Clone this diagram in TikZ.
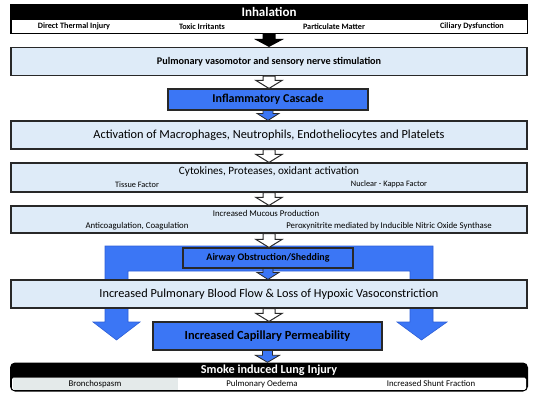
\documentclass[tikz,border=0pt]{standalone}
\usepackage{fontspec}
\setmainfont{Carlito}
\usetikzlibrary{calc}
\definecolor{lightbox}{RGB}{222,235,248}
\definecolor{bluebox}{RGB}{59,118,245}
\definecolor{blueedge}{RGB}{45,95,215}
\definecolor{edge}{RGB}{40,40,40}
\definecolor{graycell}{RGB}{228,234,234}
\newcommand{\fsz}[1]{\fontsize{#1}{#1}\selectfont}
% block arrow: #1 style, #2 from node, #3 to node, #4 shaft half width, #5 head half width, #6 head length
\newcommand{\barrow}[6]{%
  \path[#1] let \p1=(#2.south), \p2=(#3.north) in
    (\x1-#4,\y1) -- (\x1+#4,\y1) -- (\x1+#4,\y2+#6) -- (\x1+#5,\y2+#6) --
    (\x1,\y2) -- (\x1-#5,\y2+#6) -- (\x1-#4,\y2+#6) -- cycle;}
\begin{document}
\begin{tikzpicture}[x=1pt,y=-1pt,
  lbox/.style={draw=edge,line width=1.1pt,fill=lightbox,minimum width=516pt,inner sep=0pt},
  bbox/.style={draw=edge,line width=1.1pt,fill=bluebox,inner sep=0pt,text=black},
  wtip/.style={draw=edge,line width=1pt,fill=white,line join=miter},
  btip/.style={draw=edge,line width=0.8pt,fill=bluebox,line join=miter},
  ktip/.style={fill=black},
  sub/.style={font=\bfseries\fsz{8.2},inner sep=0pt},
  small/.style={font=\fsz{8.8},inner sep=0pt}
]
\useasboundingbox (0,0) rectangle (534,400);

% Inhalation
\node[fill=black,minimum width=516pt,minimum height=14pt,inner sep=0pt,text=white,font=\bfseries\fsz{13}] (inhhead) at (269,12) {Inhalation};
\node[draw=black,line width=1pt,fill=white,minimum width=516pt,minimum height=14pt,inner sep=0pt] (inhrow) at (269,26) {};
\draw[black,line width=1pt] (inhhead.north west) rectangle (inhrow.south east);
\node[sub] (dti) at (74,26.5) {Direct Thermal Injury};
\node[sub] (toxic) at (202,26.5) {Toxic Irritants};
\node[sub] (partic) at (334,26.5) {Particulate Matter};
\node[sub] (cilia) at (472,26.5) {Ciliary Dysfunction};

% Pulmonary vasomotor
\node[lbox,minimum height=28pt,font=\bfseries\fsz{10.2}] (pvs) at (269,61.5) {Pulmonary vasomotor and sensory nerve stimulation};

% Inflammatory cascade
\node[bbox,minimum width=200pt,minimum height=21pt,font=\bfseries\fsz{12}] (infl) at (268,99.5) {Inflammatory Cascade};

% Activation
\node[lbox,minimum height=28pt,font=\fsz{12.3}] (act) at (269,135) {Activation of Macrophages, Neutrophils, Endotheliocytes and Platelets};

% Cytokines
\node[lbox,minimum height=29pt] (cyt) at (269,177.5) {};
\node[font=\fsz{11.2},inner sep=0pt] (cyttxt) at (269,171.5) {Cytokines, Proteases, oxidant activation};
\node[font=\fsz{8.3},inner sep=0pt] (tissue) at (137,184.5) {Tissue Factor};
\node[font=\fsz{8.3},inner sep=0pt] (kappa) at (389,184.5) {Nuclear - Kappa Factor};

% Mucous
\node[lbox,minimum height=27pt] (muc) at (269,219.5) {};
\node[small] (muctxt) at (266,213) {Increased Mucous Production};
\node[small] (anti) at (137,226) {Anticoagulation, Coagulation};
\node[small] (perox) at (389,226) {Peroxynitrite mediated by Inducible Nitric Oxide Synthase};

% big blue U with two arrows
\path[draw=blueedge,line width=0.6pt,fill=bluebox,line join=miter]
  (105,246) -- (433,246) -- (433,322) -- (447,322) -- (421.5,340) -- (397,322) -- (410,322)
  -- (410,271) -- (128,271) -- (128,322) -- (140,322) -- (116.5,340) -- (93,322) -- (105,322) -- cycle;

% Airway obstruction
\node[bbox,minimum width=170pt,minimum height=20pt,font=\bfseries\fsz{10}] (air) at (268,258) {Airway Obstruction/Shedding};

% Pulmonary blood flow
\node[lbox,minimum height=28pt,font=\fsz{12.3}] (blood) at (269,294) {Increased Pulmonary Blood Flow \& Loss of Hypoxic Vasoconstriction};

% Capillary permeability
\node[bbox,minimum width=229pt,minimum height=28pt,font=\bfseries\fsz{12.4}] (cap) at (267.5,336) {Increased Capillary Permeability};

% Smoke induced lung injury
\node[fill=black,rounded corners=5pt,minimum width=518pt,minimum height=29pt,inner sep=0pt] (smoke) at (269,377) {};
\fill[white,rounded corners=1.5pt] (12,377.5) rectangle (526,389.8);
\fill[graycell] (12.5,377.5) rectangle (178,389.8);
\node[text=white,font=\bfseries\fsz{12.2},inner sep=0pt] (smoketitle) at (269,370) {Smoke induced Lung Injury};
\node[small] (broncho) at (95,383.7) {Bronchospasm};
\node[small] (oedema) at (262,383.7) {Pulmonary Oedema};
\node[small] (shunt) at (431,383.7) {Increased Shunt Fraction};

% connecting block arrows
\barrow{ktip}{inhrow}{pvs}{6.5pt}{15pt}{8pt}
\barrow{wtip}{pvs}{infl}{6pt}{13pt}{8pt}
\barrow{btip}{infl}{act}{5pt}{11pt}{7pt}
\barrow{wtip}{act}{cyt}{6pt}{13pt}{8pt}
\barrow{wtip}{cyt}{muc}{6pt}{13pt}{8pt}
\barrow{wtip}{muc}{air}{6pt}{13pt}{8pt}
\barrow{btip}{air}{blood}{5pt}{11pt}{7pt}
\barrow{wtip}{blood}{cap}{6pt}{13pt}{8pt}
\barrow{btip}{cap}{smoke}{5pt}{12pt}{7pt}
\end{tikzpicture}
\end{document}
